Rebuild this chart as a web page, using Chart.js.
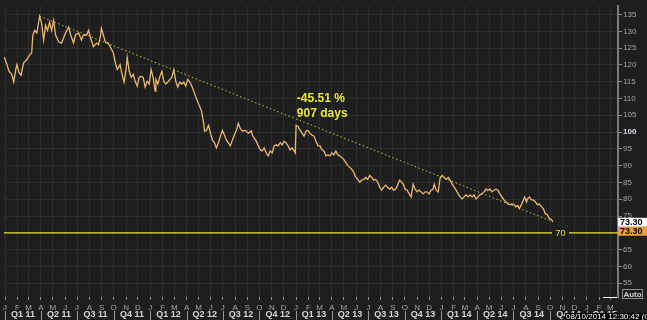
<!DOCTYPE html>
<html>
<head>
<meta charset="utf-8">
<script src="https://cdn.jsdelivr.net/npm/chart.js@4.4.1/dist/chart.umd.min.js"></script>
<style>
  html, body { margin: 0; padding: 0; background: #1e1e1e; }
  #wrap { width: 647px; height: 320px; position: relative; }
</style>
</head>
<body>
<div id="wrap"><canvas id="chart"></canvas></div>
<script>
// days since 1 Jan 2011 / price level
const days = [
  -2, 5, 10, 17, 22, 27, 30, 35, 40, 47,
  55, 62, 67, 70, 75, 80, 87, 92, 97, 102,
  107, 112, 117, 122, 127, 135, 142, 147, 152, 160,
  165, 172, 177, 185, 192, 197, 205, 210, 215, 222,
  230, 235, 240, 242, 247, 252, 259, 264, 272, 277,
  282, 289, 294, 299, 304, 307, 312, 317, 322, 327,
  332, 337, 342, 347, 352, 357, 362, 367, 372, 377,
  379, 384, 389, 394, 399, 404, 409, 414, 419, 424,
  429, 434, 439, 444, 449, 454, 459, 464, 469, 474,
  479, 484, 489, 494, 499, 501, 506, 511, 516, 521,
  526, 531, 536, 541, 546, 551, 556, 561, 566, 571,
  576, 581, 586, 591, 596, 604, 611, 619, 621, 626,
  631, 636, 641, 646, 651, 656, 661, 666, 671, 676,
  681, 686, 691, 696, 701, 706, 711, 716, 721, 726,
  729, 731, 736, 741, 746, 751, 756, 761, 766, 771,
  776, 781, 786, 791, 796, 801, 806, 811, 816, 821,
  826, 831, 836, 841, 846, 851, 856, 861, 866, 871,
  876, 881, 886, 891, 896, 901, 906, 911, 916, 921,
  926, 931, 936, 941, 946, 951, 956, 961, 966, 971,
  976, 981, 986, 991, 996, 1000, 1005, 1010, 1015, 1020,
  1025, 1030, 1035, 1040, 1045, 1050, 1055, 1060, 1065, 1070,
  1075, 1078, 1083, 1088, 1093, 1098, 1103, 1108, 1113, 1118,
  1123, 1128, 1133, 1138, 1143, 1148, 1153, 1158, 1163, 1168,
  1173, 1178, 1183, 1188, 1193, 1198, 1203, 1208, 1213, 1218,
  1223, 1228, 1233, 1238, 1243, 1248, 1253, 1258, 1263, 1268,
  1273, 1278, 1283, 1288, 1292, 1297, 1302, 1305, 1310, 1312,
  1317, 1322, 1327, 1332, 1337, 1342, 1347, 1352, 1357, 1362,
  1367, 1372, 1376
];
const prices = [
  122.4, 120.1, 118.1, 117.2, 114.9, 118.6, 120.1, 117.8, 116.9, 120.7,
  121.6, 123.0, 123.6, 128.9, 130.3, 129.5, 134.5, 132.4, 127.4, 131.8,
  130.3, 132.7, 130.3, 133.2, 128.9, 126.8, 126.5, 128.0, 129.5, 131.2,
  128.9, 126.5, 128.9, 129.5, 127.4, 128.9, 128.9, 130.3, 128.0, 125.4,
  126.5, 126.0, 128.9, 130.9, 128.9, 126.8, 126.5, 125.4, 123.6, 120.7,
  118.6, 120.1, 117.2, 114.9, 118.6, 122.2, 118.1, 116.3, 117.2, 115.1,
  113.7, 116.3, 116.6, 116.3, 113.4, 115.1, 114.3, 118.6, 116.3, 112.2,
  115.7, 114.3, 116.6, 118.1, 115.1, 114.3, 114.9, 115.7, 116.3, 118.6,
  115.1, 113.4, 114.9, 114.3, 114.9, 113.7, 115.7, 114.9, 113.7, 112.2,
  110.5, 109.0, 107.6, 106.1, 102.6, 100.3, 100.5, 102.0, 99.7, 97.6,
  96.8, 95.3, 96.8, 98.8, 100.5, 99.1, 97.6, 96.8, 95.9, 97.6,
  99.1, 100.5, 102.6, 101.1, 100.3, 100.5, 99.7, 100.3, 99.1, 98.2,
  97.3, 95.9, 94.7, 94.4, 95.3, 93.8, 92.9, 94.4, 93.8, 95.9,
  96.2, 95.9, 96.8, 96.2, 97.3, 96.8, 95.9, 94.7, 95.3, 94.4,
  93.8, 102.0, 101.7, 100.5, 99.7, 98.8, 100.3, 100.5, 99.7, 99.1,
  98.8, 97.3, 95.9, 95.9, 94.7, 94.4, 92.9, 93.2, 92.9, 93.8,
  93.2, 94.4, 93.2, 92.9, 92.4, 91.8, 90.9, 90.0, 89.5, 88.9,
  88.0, 86.5, 85.9, 85.1, 85.7, 85.9, 86.5, 85.9, 87.1, 86.5,
  85.7, 85.9, 85.1, 83.6, 82.7, 83.6, 84.2, 83.6, 83.0, 83.6,
  82.7, 83.0, 84.2, 85.7, 85.1, 84.5, 83.0, 82.7, 81.6, 80.7,
  84.5, 83.0, 82.2, 82.7, 82.2, 81.6, 82.2, 82.2, 81.6, 82.7,
  83.0, 84.5, 82.7, 82.2, 86.5, 87.1, 86.5, 85.9, 86.5, 85.7,
  84.5, 83.6, 82.7, 81.6, 80.7, 80.1, 80.7, 81.3, 80.7, 81.3,
  80.7, 81.3, 80.1, 80.7, 81.3, 81.6, 82.2, 83.0, 82.7, 83.0,
  82.2, 82.7, 83.0, 82.7, 81.6, 80.7, 79.8, 79.2, 78.6, 78.4,
  78.6, 78.4, 77.8, 78.1, 77.2, 78.4, 79.8, 80.7, 79.2, 80.1,
  80.7, 79.8, 79.8, 79.2, 78.4, 78.6, 77.8, 77.2, 75.7, 75.4,
  74.3, 74.0, 73.3
];

// trend line from the peak to the last close
const trendDays = [87, 1376];
const trendPrices = [134.5, 73.3];

const supportLevel = 70;
const lastPrice = 73.30;
const changeLabel = '-45.51 %';
const spanLabel = '907 days';
const stampLabel = '08/10/2014 12:30:42 (GMT';

const yTicks = [55, 60, 65, 70, 75, 80, 85, 90, 95, 100, 105, 110, 115, 120, 125, 130, 135];
const monthLetters = ['J', 'F', 'M', 'A', 'M', 'J', 'J', 'A', 'S', 'O', 'N', 'D'];
const quarterLabels = ['Q1 11', 'Q2 11', 'Q3 11', 'Q4 11', 'Q1 12', 'Q2 12', 'Q3 12', 'Q4 12',
  'Q1 13', 'Q2 13', 'Q3 13', 'Q4 13', 'Q1 14', 'Q2 14', 'Q3 14', 'Q4 14', 'Q1 15'];

// month starts as day offsets, Jan 2011 .. Apr 2015
const dayOf = (y, m) => (Date.UTC(y, m, 1) - Date.UTC(2011, 0, 1)) / 864e5;
const monthStarts = [];
for (let i = 0; i <= 51; i++) monthStarts.push(dayOf(2011 + Math.floor(i / 12), i % 12));

const FONT = '"Liberation Sans", Arial, sans-serif';
const BG = '#1e1e1e';
const GRID = '#2d2d2d';
const isHundred = c => !!(c && c.tick && c.tick.value === 100);

const overlay = {
  id: 'overlay',
  beforeDraw(chart) {
    const c = chart.ctx;
    c.save();
    c.fillStyle = BG;
    c.fillRect(0, 0, chart.width, chart.height);
    c.restore();
  },
  afterDraw(chart) {
    const c = chart.ctx;
    const xs = chart.scales.x, ys = chart.scales.y;
    const area = chart.chartArea;
    c.save();

    // label on the 70 line
    const y70 = ys.getPixelForValue(supportLevel);
    c.fillStyle = BG;
    c.fillRect(area.right - 66, y70 - 5, 17, 10);
    c.fillStyle = '#e6e02a';
    c.font = '9px ' + FONT;
    c.textAlign = 'center';
    c.textBaseline = 'middle';
    c.fillText(String(supportLevel), area.right - 57.5, y70 + 0.5);

    // change annotation
    c.fillStyle = '#e8e830';
    c.font = 'bold 12px ' + FONT;
    c.textAlign = 'left';
    const ax = xs.getPixelForValue(733);
    c.fillText(changeLabel, ax, ys.getPixelForValue(109.9));
    c.fillText(spanLabel, ax, ys.getPixelForValue(105.6));

    // last price boxes
    const yp = ys.getPixelForValue(lastPrice);
    c.fillStyle = '#ffffff';
    c.fillRect(area.right, yp - 4, chart.width - area.right, 9);
    c.fillStyle = '#f0a030';
    c.fillRect(area.right, yp + 5, chart.width - area.right, 9);
    c.fillStyle = '#000000';
    c.font = 'bold 9px ' + FONT;
    c.fillText(lastPrice.toFixed(2), area.right + 2, yp + 0.8);
    c.fillText(lastPrice.toFixed(2), area.right + 2, yp + 9.8);

    // quarter row
    c.font = 'bold 9px ' + FONT;
    c.textAlign = 'center';
    c.textBaseline = 'middle';
    quarterLabels.forEach((q, i) => {
      const d0 = monthStarts[i * 3], d1 = monthStarts[i * 3 + 3];
      const x0 = xs.getPixelForValue(d0);
      c.fillStyle = '#d6d6d6';
      c.fillText(q, (x0 + xs.getPixelForValue(d1)) / 2, 315);
      c.fillStyle = '#9a9a9a';
      c.fillRect(Math.round(x0), 311, 1, 9);
    });

    // Auto button and small white mark
    c.strokeStyle = '#8c8c8c';
    c.lineWidth = 1;
    c.strokeRect(622.5, 289.5, 20, 9);
    c.fillStyle = '#cfcfcf';
    c.font = 'bold 8px ' + FONT;
    c.fillText('Auto', 632.5, 294.5);
    c.fillStyle = '#ffffff';
    c.fillRect(603, 297, 14, 1);

    // date stamp
    c.fillStyle = '#000000';
    c.fillRect(565, 313, chart.width - 565, 7);
    c.fillStyle = '#ffffff';
    c.font = '8px ' + FONT;
    c.textAlign = 'left';
    c.textBaseline = 'top';
    c.fillText(stampLabel, 566, 313);
    c.restore();
  }
};

const ctx = document.getElementById('chart').getContext('2d');
const chart = new Chart(ctx, {
  type: 'line',
  data: {
    datasets: [
      {
        label: 'Price',
        data: days.map((d, i) => ({ x: d, y: prices[i] })),
        borderColor: '#ecb86c',
        borderWidth: 1.3,
        pointRadius: 0,
        tension: 0
      },
      {
        label: 'Trend',
        data: trendDays.map((d, i) => ({ x: d, y: trendPrices[i] })),
        borderColor: '#c9c43a',
        borderWidth: 1,
        borderDash: [1.5, 2.5],
        pointRadius: 0
      },
      {
        label: 'Support',
        data: [{ x: -10, y: supportLevel }, { x: 1600, y: supportLevel }],
        borderColor: '#e8e22a',
        borderWidth: 1.3,
        pointRadius: 0
      }
    ]
  },
  options: {
    responsive: true,
    maintainAspectRatio: false,
    animation: false,
    layout: { padding: 0 },
    plugins: {
      legend: { display: false },
      tooltip: { enabled: false }
    },
    scales: {
      x: {
        type: 'linear',
        min: -2.5,
        max: 1539.5,
        afterBuildTicks: s => { s.ticks = monthStarts.slice(0, 51).map(v => ({ value: v })); },
        afterFit: s => { s.height = 23; },
        grid: { color: GRID, tickColor: '#8a8a8a', tickLength: 3 },
        border: { display: false },
        ticks: {
          autoSkip: false,
          maxRotation: 0,
          padding: 3,
          color: '#a4a4a4',
          font: { family: FONT, size: 8 },
          callback: (v, i) => monthLetters[i % 12]
        }
      },
      y: {
        position: 'right',
        min: 50.9,
        max: 137.6,
        afterBuildTicks: s => { s.ticks = yTicks.map(v => ({ value: v })); },
        afterFit: s => { s.width = 29; },
        grid: { color: GRID, tickColor: '#8a8a8a', tickLength: 4 },
        border: { color: '#7a7a7a', width: 2 },
        ticks: {
          padding: 1,
          color: c => isHundred(c) ? '#d4dae6' : '#a4a4a4',
          font: c => ({ family: FONT, size: 8, weight: isHundred(c) ? 'bold' : 'normal' })
        }
      }
    }
  },
  plugins: [overlay]
});
</script>
</body>
</html>
